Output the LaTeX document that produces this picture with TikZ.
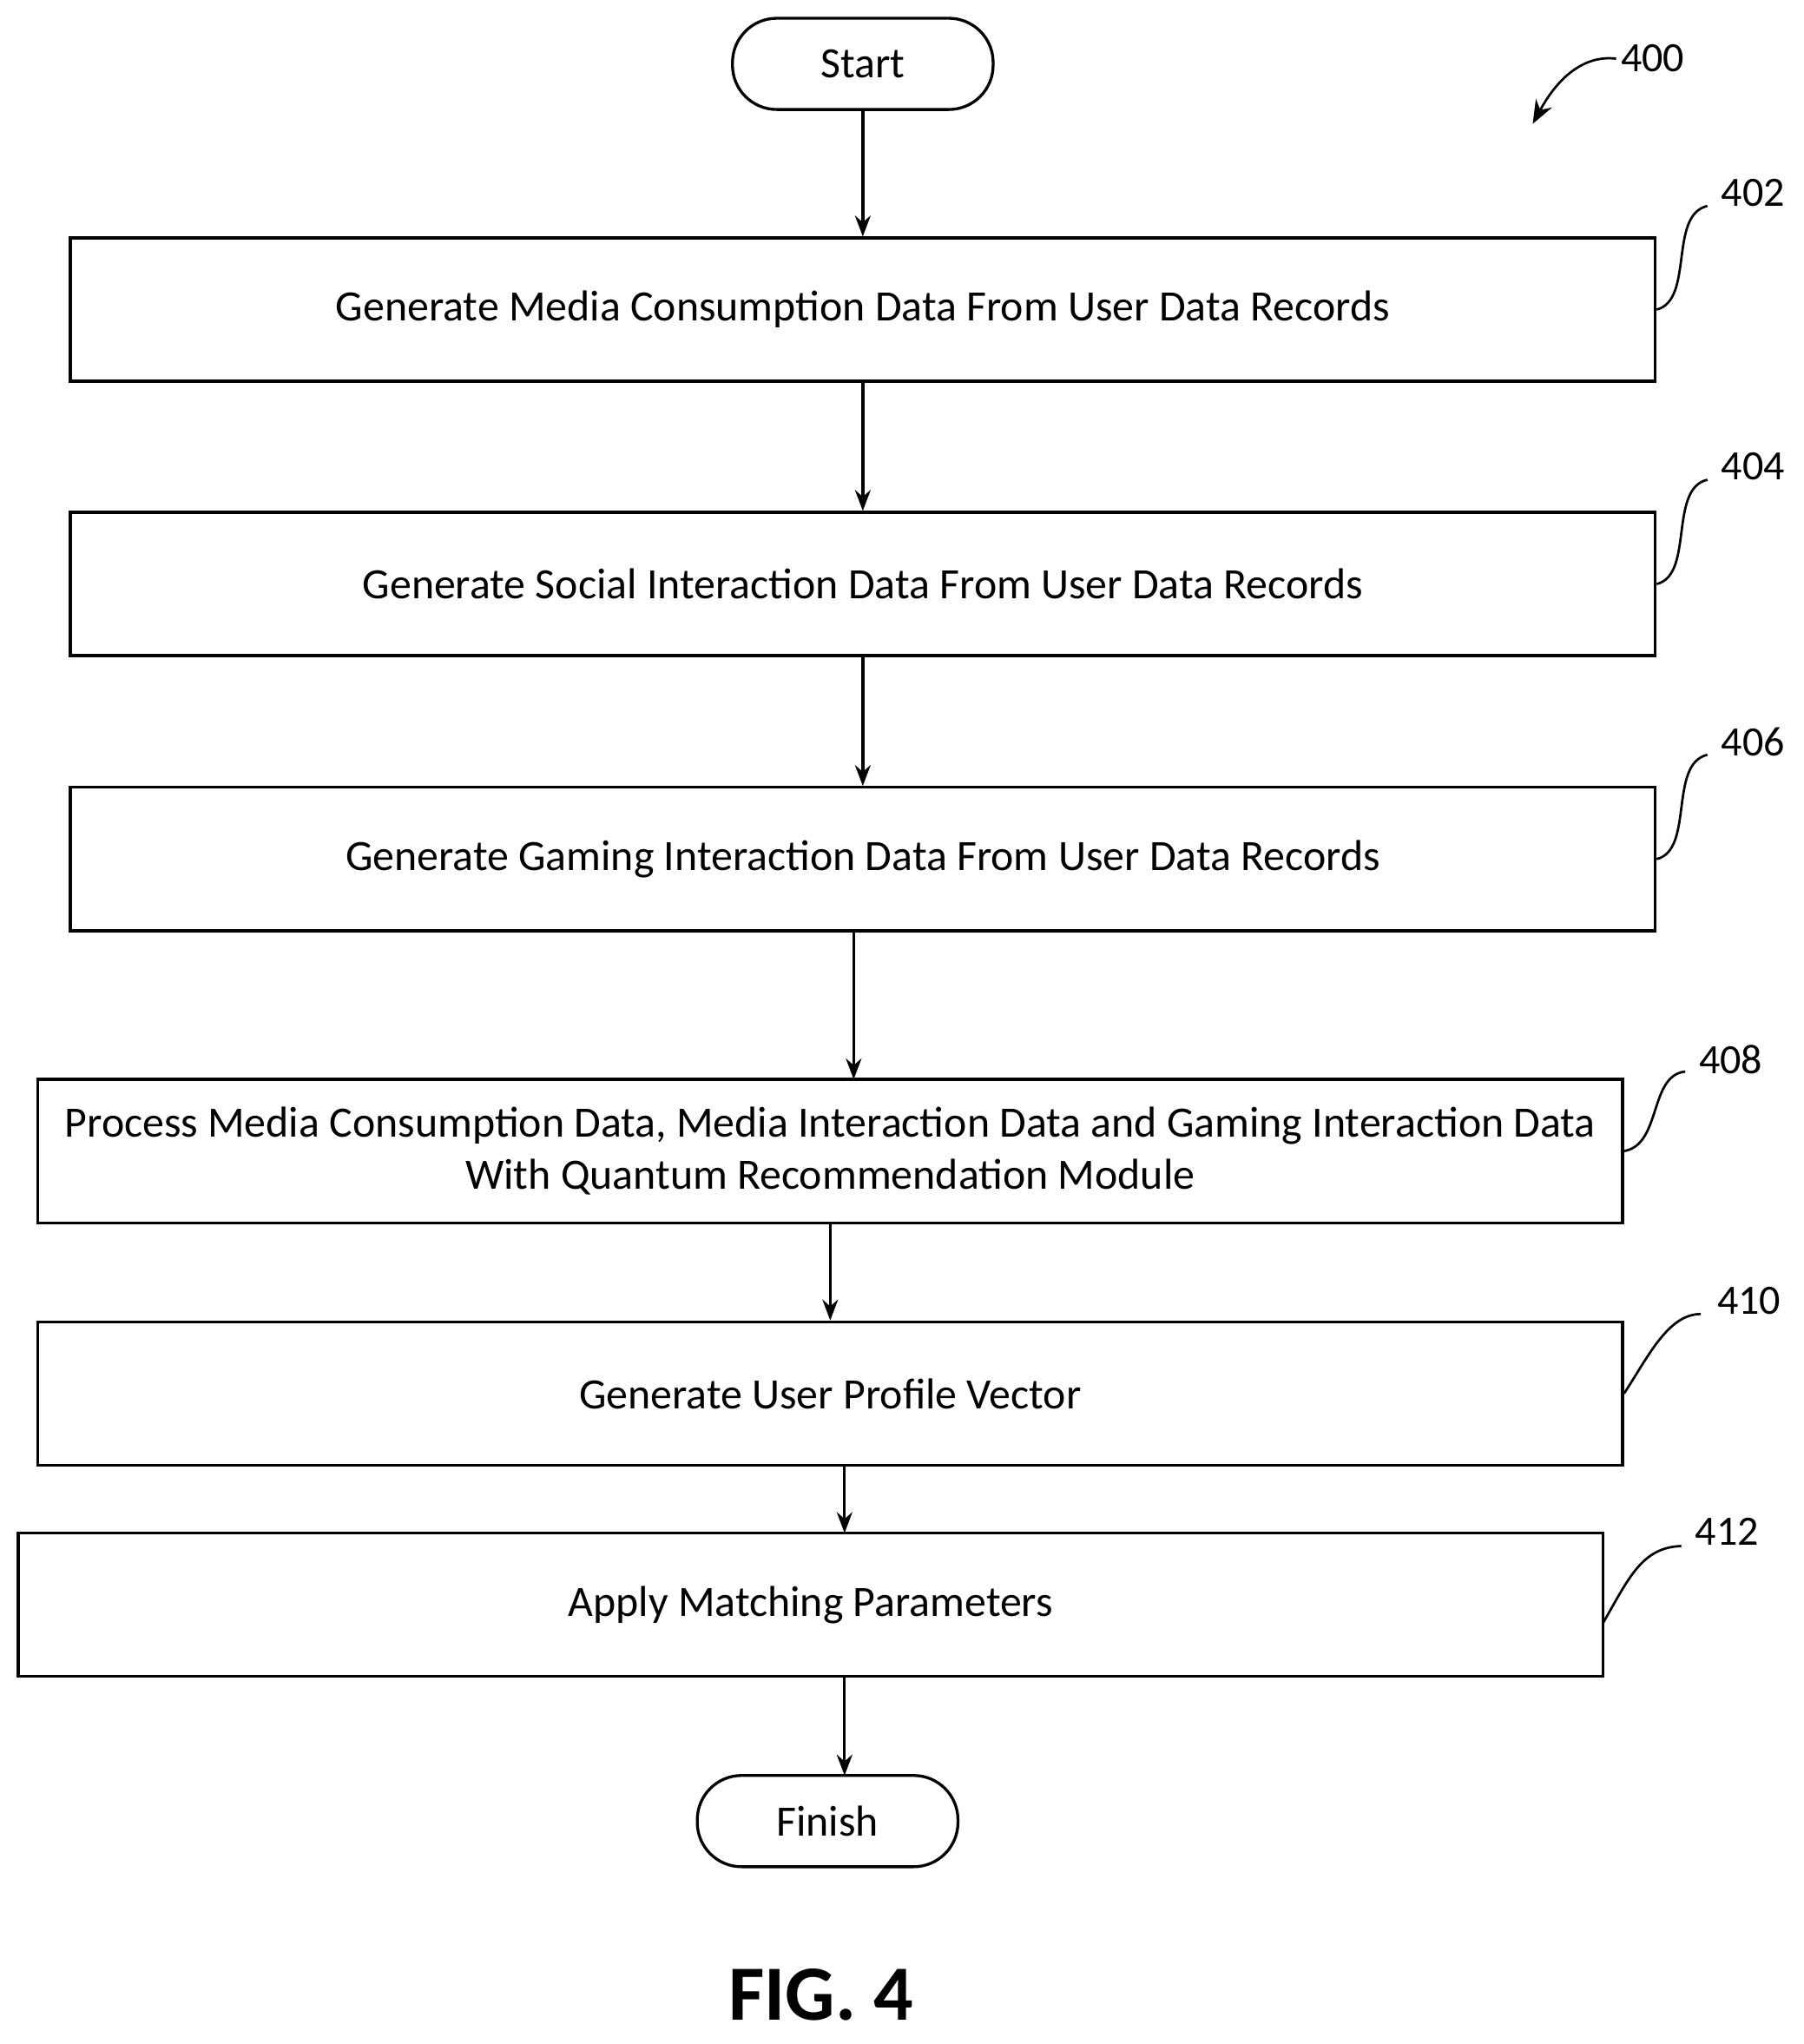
\documentclass[tikz,border=0pt]{standalone}
\usepackage{fontspec}
\setmainfont{Carlito}
\usetikzlibrary{arrows.meta}
\begin{document}
\begin{tikzpicture}[x=0.5pt,y=-0.5pt,
  box/.style={draw,line width=1.1pt,minimum width=608pt,minimum height=55pt,inner sep=0,font=\fontsize{16.6}{20}\selectfont,align=center},
  term/.style={draw,line width=1.1pt,rounded corners=17pt,minimum width=100pt,minimum height=35pt,font=\fontsize{16.6}{18}\selectfont},
  arr/.style={-{Stealth[length=8pt,width=6pt]},line width=1.1pt},
  lead/.style={line width=0.9pt},
  num/.style={font=\fontsize{16}{18}\selectfont}]
\useasboundingbox (0,0) rectangle (1384,1568);
\node[term] (s) at (662,49) {Start};
\node[box] (b402) at (662,237.5) {Generate Media Consumption Data From User Data Records};
\node[box] (b404) at (662,448) {Generate Social Interaction Data From User Data Records};
\node[box] (b406) at (662,659) {Generate Gaming Interaction Data From User Data Records};
\node[box] (b408) at (637,883) {Process Media Consumption Data, Media Interaction Data and Gaming Interaction Data\\With Quantum Recommendation Module};
\node[box] (b410) at (637,1069) {Generate User Profile Vector};
\node[box] (b412) at (622,1231) {Apply Matching Parameters};
\node[term] (f) at (635,1397) {Finish};
\draw[arr] (s.south) -- (b402.north);
\draw[arr] (b402.south) -- (b404.north);
\draw[arr] (b404.south) -- (b406.north);
\draw[arr] (655,714) -- (655,828);
\draw[arr] (b408.south) -- (b410.north);
\draw[arr] (648,1124) -- (648,1176);
\draw[arr] (648,1286) -- (648,1362);
\node[num] (n400) at (1268,45) {400};
\node[num] (n402) at (1345,148) {402};
\node[num] (n404) at (1345,358) {404};
\node[num] (n406) at (1345,569) {406};
\node[num] (n408) at (1328,813) {408};
\node[num] (n410) at (1342,998) {410};
\node[num] (n412) at (1325,1175) {412};
\draw[lead] (b402.east) .. controls (1300,230) and (1280,165) .. (1310,158);
\draw[lead] (b404.east) .. controls (1300,441) and (1280,375) .. (1310,368);
\draw[lead] (b406.east) .. controls (1300,652) and (1280,586) .. (1310,579);
\draw[lead] (b408.east) .. controls (1275,878) and (1265,825) .. (1293,822);
\draw[lead] (b410.east) .. controls (1265,1040) and (1280,1008) .. (1305,1008);
\draw[lead] (1230,1245) .. controls (1250,1210) and (1260,1187) .. (1290,1186);
\draw[lead,-{Stealth[length=9pt,width=7pt]}] (1240,45) .. controls (1215,42) and (1195,60) .. (1176,95);
\node[font=\fontsize{30}{36}\selectfont\bfseries] (fig) at (630,1530) {FIG. 4};
\end{tikzpicture}
\end{document}
